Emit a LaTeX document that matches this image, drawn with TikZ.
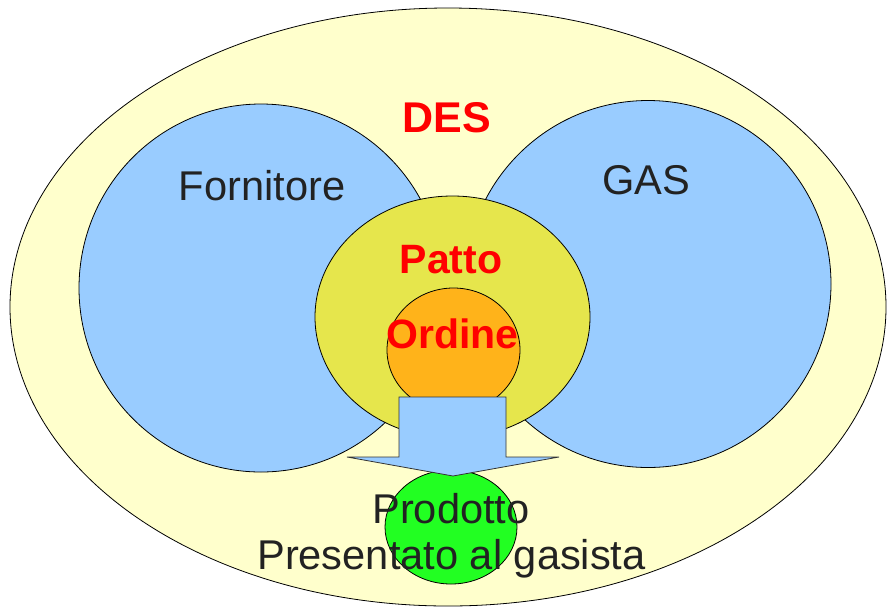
\documentclass[tikz,border=0pt]{standalone}
\usepackage{fontspec}
\setmainfont{Liberation Sans}
\usepackage{xcolor}
\usepackage{tikz}
\usetikzlibrary{positioning,shapes.geometric}
\definecolor{desfill}{RGB}{255,255,204}
\definecolor{partyblue}{RGB}{153,204,255}
\definecolor{pactyellow}{RGB}{230,230,76}
\definecolor{orderorange}{RGB}{255,179,26}
\definecolor{prodgreen}{RGB}{34,255,34}
\definecolor{ink}{RGB}{34,34,34}
\definecolor{hot}{RGB}{255,0,0}
\tikzset{
    set/.style={ellipse,draw=black,line width=0.8pt,inner sep=0pt},
    lbl/.style={anchor=base,inner sep=0pt,text=ink,font=\fontsize{41.6}{46}\selectfont},
    key/.style={anchor=base,inner sep=0pt,text=hot,font=\fontsize{41}{46}\selectfont\bfseries},
    flow/.style={draw=black!80,line width=0.8pt,fill=partyblue,line join=miter},
}

\begin{document}
\begin{tikzpicture}[x=1pt,y=-1pt]
\useasboundingbox (0,0) rectangle (888,614);
\node[set,fill=desfill,minimum width=876pt,minimum height=598pt] (des) at (448,307) {};
\node[set,fill=partyblue,minimum width=364pt,minimum height=368pt] (forn) at (261,288) {};
\node[set,fill=partyblue,minimum width=366pt,minimum height=367pt] (gas) at (648,284) {};
\node[set,fill=pactyellow,minimum width=275pt,minimum height=242pt] (patto) at (452.5,317) {};
\node[set,fill=orderorange,minimum width=133pt,minimum height=124pt] (ord) at (453.5,350) {};
\node[set,fill=prodgreen,minimum width=132pt,minimum height=114pt] (prod) at (451,527) {};

% block arrow from the order down to the product
\coordinate (sl) at (399,397);
\coordinate (sr) at (506,397);
\coordinate (tip) at (453,476);
\draw[flow] (sl) -- (sr) -- (506,457) -- (559,457) -- (tip) -- (347,457) -- (399,457) -- cycle;

\node[key,font=\fontsize{43}{46}\selectfont\bfseries] (tdes) at (447,132) {DES};
\node[lbl] (tforn) at (262,200) {Fornitore};
\node[lbl] (tgas) at (646,194) {GAS};
\node[key] (tpatto) at (451,273) {Patto};
\node[key] (tord) at (452.5,348) {Ordine};
\node[lbl] (tprod) at (451,523) {Prodotto};
\node[lbl] (tpres) at (451.5,569) {Presentato al gasista};
\end{tikzpicture}
\end{document}
